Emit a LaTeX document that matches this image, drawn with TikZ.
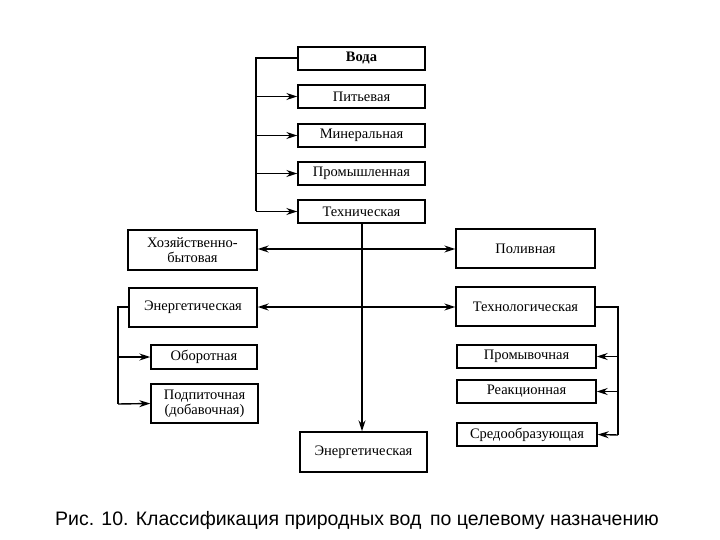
\documentclass[tikz,border=0pt]{standalone}
\usepackage{fontspec}
\setmainfont{Liberation Serif}
\newfontfamily\capfont{Liberation Sans}
\usetikzlibrary{arrows.meta}
\begin{document}
\begin{tikzpicture}[x=1pt,y=-1pt,
  bx/.style={draw,line width=1.4pt,inner sep=0pt,align=center,font=\fontsize{14.5}{15}\selectfont},
  ln/.style={line width=1.4pt},
  ar/.style={line width=1.4pt,-{Stealth[length=11pt,width=7pt]}},
  dar/.style={line width=1.4pt,{Stealth[length=11pt,width=7pt]}-{Stealth[length=11pt,width=7pt]}}]
\useasboundingbox (0,0) rectangle (720,540);
\def\B#1#2#3#4#5#6{\node[bx,minimum width=#4-#2,minimum height=#5-#3] (#1) at ({(#2+#4)/2},{(#3+#5)/2}) {#6};}
\B{voda}{298}{47}{425}{70}{\textbf{Вода}}
\B{pit}{298}{85}{425}{108}{Питьевая}
\B{min}{298}{124}{425}{147}{Минеральная}
\B{prom}{298}{162}{425}{185}{Промышленная}
\B{tech}{298}{200}{425}{223}{Техническая}
\B{hoz}{128}{230}{257}{270}{Хозяйственно-\\бытовая}
\B{pol}{456}{229}{595}{268}{Поливная}
\B{en}{129}{288}{257}{327}{Энергетическая}
\B{tl}{456}{287}{595}{326}{Технологическая}
\B{ob}{151}{345}{257}{369}{Оборотная}
\B{pod}{151}{384}{258}{423}{Подпиточная\\(добавочная)}
\B{prm}{457}{345}{596}{368}{Промывочная}
\B{re}{457}{380}{596}{403}{Реакционная}
\B{sr}{457}{423}{597}{446}{Средообразующая}
\B{en2}{300}{432}{427}{472}{Энергетическая}
\coordinate (lt) at (256,58);
\coordinate (lb) at (256,211);
\draw[ln] (voda.west|-lt) -- (lt) -- (lb);
\foreach \n in {pit,min,prom,tech} \draw[ar] (lt|-\n.west) -- (\n.west);
\coordinate (c1) at (362,249);
\coordinate (c2) at (362,307);
\draw[ar] (tech.south-|c1) -- (en2.north-|c1);
\draw[dar] (hoz.east|-c1) -- (pol.west|-c1);
\draw[dar] (en.east|-c2) -- (tl.west|-c2);
\coordinate (L) at (118,307);
\draw[ln] (en.west|-L) -- (L) -- (118,404);
\draw[ar] (L|-ob.west) -- (ob.west);
\draw[ar] (118,404) -- (pod.west);
\coordinate (R) at (618,307);
\draw[ln] (tl.east|-R) -- (R) -- (618,435);
\draw[ar] (R|-prm.east) -- (prm.east);
\draw[ar] (R|-re.east) -- (re.east);
\draw[ar] (618,435) -- (sr.east);
\node[font=\capfont\fontsize{19.5}{22}\selectfont] (cap) at (357,520) {Рис. 10. Классификация природных вод\, по целевому назначению};
\end{tikzpicture}
\end{document}
